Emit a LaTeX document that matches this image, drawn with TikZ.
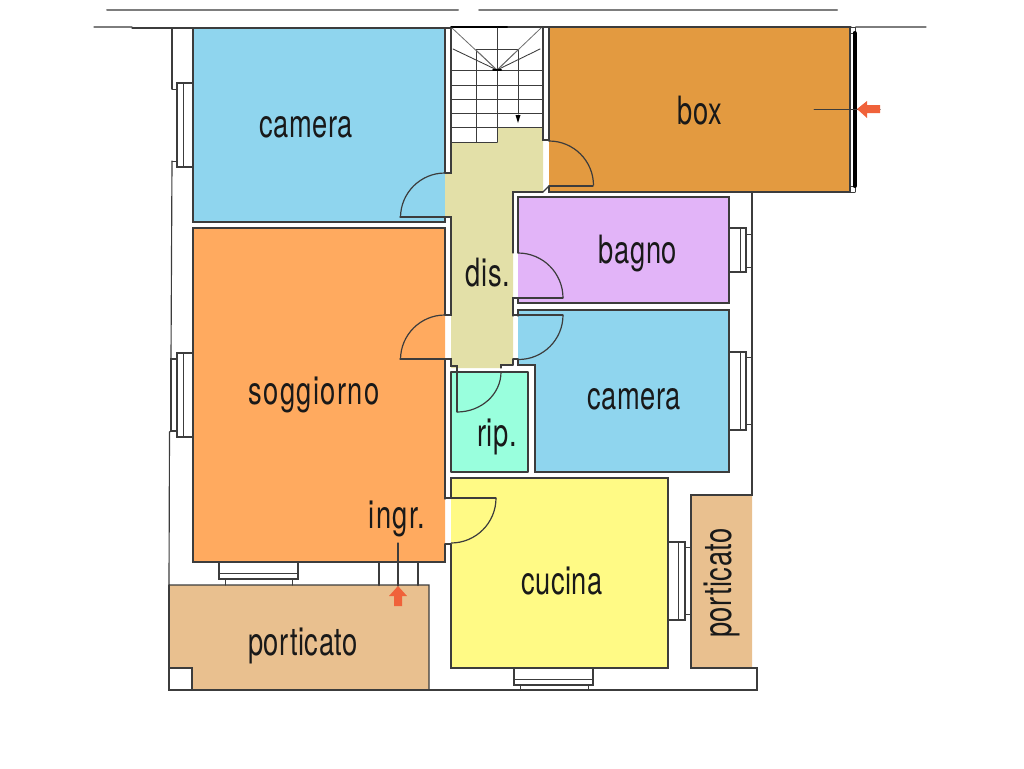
\documentclass[tikz,border=0pt]{standalone}
\usepackage{fontspec}
\setmainfont[FakeStretch=0.70,LetterSpace=1.5]{TeX Gyre Heros}
\usepackage{tkz-euclide}
\definecolor{BedClr}{RGB}{143, 213, 238}
\definecolor{LivingClr}{RGB}{255, 170, 95}
\definecolor{GarageClr}{RGB}{227, 154, 64}
\definecolor{BathClr}{RGB}{226, 180, 248}
\definecolor{HallClr}{RGB}{227, 224, 168}
\definecolor{StoreClr}{RGB}{153, 255, 221}
\definecolor{KitchenClr}{RGB}{255, 250, 133}
\definecolor{PorchClr}{RGB}{233, 192, 143}
\definecolor{WallClr}{RGB}{60, 60, 60}
\definecolor{RoadClr}{RGB}{125, 125, 125}
\definecolor{ArrowClr}{RGB}{240, 98, 58}
\tikzset{
  RoomLbl/.style={font=\fontsize{39}{40}\selectfont,text=black!90,inner sep=0pt,anchor=base},
  WideLbl/.style={RoomLbl,font=\fontsize{39}{40}\selectfont\addfontfeature{LetterSpace=3.5}},
  DoorArc/.style={line width=1.2pt,color=WallClr},
}

\begin{document}
\begin{tikzpicture}[x=1pt,y=-1pt]
\useasboundingbox (0,0) rectangle (1024,768);
\tkzSetUpLine[line width=1.15pt,color=WallClr]

\tkzDefPoints{193/28/CaA,445/28/CaB,445/173/CaC,400/173/CaD,445/217/CaE,445/222/CaF,193/222/CaG}
\tkzDefPoints{193/228/SoA,445/228/SoB,445/315/SoC,445/359/SoD,445/499/SoE,445/544/SoF,445/562/SoG,193/562/SoH}
\tkzDefPoints{549/27/BoA,850/27/BoB,850/192/BoC,549/192/BoD,549/186/BoE,549/141/BoF}
\tkzDefPoints{518/253/BaA,518/197/BaB,729/197/BaC,729/303/BaD,518/303/BaE,518/298/BaF}
\tkzDefPoints{518/316/CbA,518/310/CbB,729/310/CbC,729/472/CbD,535/472/CbE,535/365/CbF,518/365/CbG,518/359/CbH}
\tkzDefPoints{451/372/RiA,528/372/RiB,528/472/RiC,451/472/RiD}
\tkzDefPoints{451/478/CuA,668/478/CuB,668/668/CuC,451/668/CuD,451/544/CuE,451/498/CuF}
\tkzDefPoints{451/142/DiA,497/142/DiB,497/128/DiC,543/128/DiD,543/192/DiE,513/192/DiF,513/365/DiG,501/365/DiH,501/368/DiI,451/368/DiJ,451/217/DiK,451/173/DiL}
\tkzDefPoints{169/585/PoA,429/585/PoB,429/690/PoC,192/690/PoD,192/668/PoE,169/668/PoF}
\tkzDefPoints{691/668/PrA,691/495/PrB,752/495/PrC,752/668/PrD}
\tkzDefPoints{757/668/OuA,757/690/OuB,169/690/OuC}

\tkzFillPolygon[fill=BedClr](CaA,CaB,CaF,CaG)
\tkzFillPolygon[fill=LivingClr](SoA,SoB,SoG,SoH)
\tkzFillPolygon[fill=GarageClr](BoA,BoB,BoC,BoD)
\tkzFillPolygon[fill=BathClr](BaB,BaC,BaD,BaE)
\tkzFillPolygon[fill=BedClr](CbB,CbC,CbD,CbE,CbF,CbG)
\tkzFillPolygon[fill=StoreClr](RiA,RiB,RiC,RiD)
\tkzFillPolygon[fill=KitchenClr](CuA,CuB,CuC,CuD)
\tkzFillPolygon[fill=HallClr](DiA,DiB,DiC,DiD,DiE,DiF,DiG,DiH,DiI,DiJ,DiK,CaE,CaC,DiL)
\tkzFillPolygon[fill=PorchClr](PoA,PoB,PoC,PoD,PoE,PoF)
\tkzFillPolygon[fill=PorchClr](PrA,PrB,PrC,PrD)

% road lines
\tkzDefPoints{107/10/RdA,458/10/RdB,479/10/RdC,837/10/RdD,94/27/RdE,132/27/RdF,856/27/RdG,926/27/RdH}
\tkzDrawSegments[line width=2pt,color=RoadClr](RdA,RdB RdC,RdD)
\tkzDrawSegments[line width=1.2pt,color=RoadClr](RdE,RdF RdG,RdH)

% rooms
\tkzDefPoints{132/28/TpA,451/28/TpB,508/27/TpC,851/27/TpD,451/27/TpE}
\tkzDrawSegment(TpA,TpB)
\tkzDrawSegment[line width=2pt,color=black](TpE,TpC)
\tkzDrawSegment(TpC,TpD)
\tkzDrawPolySeg(CaC,CaB,CaA,CaG,CaF,CaE)
\tkzDrawPolySeg(SoC,SoB,SoA,SoH,SoG,SoF)
\tkzDrawSegment(SoD,SoE)
\tkzDrawPolySeg(BoF,BoA)
\tkzDrawPolySeg(BoA,BoB,BoC,BoD,BoE)
\tkzDrawPolySeg(BaA,BaB,BaC,BaD,BaE,BaF)
\tkzDrawPolySeg(CbA,CbB,CbC,CbD,CbE,CbF,CbG,CbH)
\tkzDrawPolygon(RiA,RiB,RiC,RiD)
\tkzDrawPolySeg(CuF,CuA,CuB,CuC,CuD,CuE)
\tkzDrawPolySeg(CaC,DiL,TpB)
\tkzDrawPolySeg(DiI,DiH,DiG)

% walls
\tkzDefPoints{543/28/WaA,543/140/WaB,549/140/WaC,513/253/WaD,513/298/WaE,518/298/WaF,513/316/WaG,513/359/WaH,518/359/WaI}
\tkzDefPoints{451/359/WaJ,451/366/WaK,457/366/WaL,457/372/WaM,501/372/WaN,445/359/WaO,445/315/WaP,451/315/WaQ,445/544/WaR,445/498/WaS}
\tkzDrawPolySeg(CaE,DiK,WaQ,WaP)
\tkzDrawPolySeg(WaA,WaB,WaC)
\tkzDrawPolySeg(DiE,BoE)
\tkzDrawPolySeg(DiE,DiF,WaD)
\tkzDrawPolySeg(WaF,WaE,WaG)
\tkzDrawPolySeg(WaH,WaI)
\tkzDrawSegment(WaH,DiG)
\tkzDrawPolySeg(WaO,WaJ,WaK,WaL,WaM)
\tkzDrawSegment(WaR,CuE)

% outer walls
\tkzDefPoints{172/28/OwA,172/89/OwB,172/161/OwC,171/359/OwE,171/431/OwF,752/192/OwH,169.5/432/OwG}
\tkzDrawPolySeg(OwA,OwB)
\tkzDrawPolySeg(OwC,OwE)
\tkzDrawPolySeg(OwF,OwG,PoA,PoB,PoC)
\tkzDrawPolySeg(PoA,PoF,OuC,PoD,PoE,PoF)
\tkzDrawPolySeg(PoD,PoC,OuB,OuA,PrD,PrA,PrB,PrC,OwH)

% doors
\tkzDefPoints{400/217/LfA,400/359/LfB,593/186/LfC,563/298/LfD,563/315/LfE,513/315/LfF,457/412/LfG,496/498/LfH}
\tkzDrawSegment[DoorArc](CaE,LfA)
\tkzDrawSegment[DoorArc](WaO,LfB)
\tkzDrawSegment[DoorArc](BoE,LfC)
\tkzDrawSegment[DoorArc](BaF,LfD)
\tkzDrawSegment[DoorArc](LfF,LfE)
\tkzDrawSegment[DoorArc](WaM,LfG)
\tkzDrawSegment[DoorArc](WaS,LfH)
\draw[DoorArc] (CaC) arc[start angle=-90,end angle=-180,radius=44.5];
\draw[DoorArc] (WaP) arc[start angle=-90,end angle=-180,radius=44.5];
\draw[DoorArc] (BoF) arc[start angle=-90,end angle=0,radius=44.5];
\draw[DoorArc] (BaA) arc[start angle=-90,end angle=0,radius=45];
\draw[DoorArc] (LfE) arc[start angle=0,end angle=90,radius=44.5];
\draw[DoorArc] (WaN) arc[start angle=0,end angle=90,x radius=44,y radius=40];
\draw[DoorArc] (LfH) arc[start angle=0,end angle=90,radius=45];

% stairs
\tkzDefPoints{451/142/StA,497/28/StB,476/50/StC,518/50/StD,476/142/StE,518/114/StF,497/70/StG}
\tkzDefPoints{452/28/StH,541/28/StI,453/49/StJ,540/49/StK,493/70/StL,501/70/StM}
\tkzDefPoints{452/70.5/TrA,543/70.5/TrB,452/85/TrC,543/85/TrD,452/99/TrE,543/99/TrF,452/113.5/TrG,543/113.5/TrH,452/127.5/TrI,543/127.5/TrL}
\tkzDrawSegments[line width=1pt](StB,DiB StE,StC StC,StD StD,StF StA,DiB)
\tkzDrawSegments[line width=1pt](TrA,TrB TrC,TrD TrE,TrF TrG,TrH TrI,TrL)
\tkzDrawSegments[line width=.8pt,color=WallClr!75](StH,StG StI,StG StC,StG StD,StG)
\tkzDrawSegments[line width=.9pt,dash pattern=on 3pt off .6pt](StJ,StG StK,StG)
\tkzDrawSegment[line width=2pt,color=black](StL,StM)
\tkzDefPoints{518/123/StN,515.5/115/StO,520.5/115/StP}
\tkzFillPolygon[fill=black](StN,StO,StP)

% windows
\tkzDefPoints{177/83/WnA,193/83/WnB,177/167/WnC,193/167/WnD,183/83/WnE,183/167/WnF,172/89/WnG,177/89/WnH,172/161/WnI,177/161/WnJ}
\tkzDrawPolySeg(WnB,WnA,WnC,WnD)
\tkzDrawSegments[line width=1pt](WnE,WnF WnG,WnH WnI,WnJ)
\tkzDefPoints{177/353/WsA,193/353/WsB,177/437/WsC,193/437/WsD,183/353/WsE,183/437/WsF,171/359/WsG,177/359/WsH,171/431/WsI,177/431/WsJ}
\tkzDrawPolySeg(WsB,WsA,WsC,WsD)
\tkzDrawSegments[line width=1pt](WsE,WsF)
\tkzDrawPolySeg[line width=1.8pt](WsH,WsG,WsI,WsJ)
\tkzDefPoints{729/228/WbA,746/228/WbB,746/272/WbC,729/272/WbD,740/228/WbE,740/272/WbF,746/234/WbG,752/234/WbH,746/267/WbI,752/267/WbJ}
\tkzDrawPolySeg(WbA,WbB,WbC,WbD)
\tkzDrawSegments[line width=1pt](WbE,WbF WbG,WbH WbI,WbJ)
\tkzDefPoints{729/352/WcA,746/352/WcB,746/430/WcC,729/430/WcD,740/352/WcE,740/430/WcF,746/357/WcG,752/357/WcH,746/424/WcI,752/424/WcJ}
\tkzDrawPolySeg(WcA,WcB,WcC,WcD)
\tkzDrawSegments[line width=1pt](WcE,WcF WcG,WcH WcI,WcJ)
\tkzDefPoints{668/542/WkA,685/542/WkB,685/620/WkC,668/620/WkD,678/542/WkE,678/620/WkF,685/547/WkG,691/547/WkH,685/614/WkI,691/614/WkJ}
\tkzDrawPolySeg(WkA,WkB,WkC,WkD)
\tkzDrawSegments[line width=1pt](WkE,WkF WkG,WkH WkI,WkJ)
\tkzDefPoints{514/668/WdA,514/685/WdB,593/685/WdC,593/668/WdD,514/679/WdE,593/679/WdF,520/685/WdG,520/690/WdH,588/685/WdI,588/690/WdJ}
\tkzDrawPolySeg(WdA,WdB,WdC,WdD)
\tkzDrawSegments[line width=1pt](WdE,WdF WdG,WdH WdI,WdJ)
\tkzDefPoints{219/562/WeA,219/579/WeB,298/579/WeC,298/562/WeD,219/573/WeE,298/573/WeF,225/579/WeG,225/585/WeH,292/579/WeI,292/585/WeJ}
\tkzDrawPolySeg(WeA,WeB,WeC,WeD)
\tkzDrawSegments[line width=1pt](WeE,WeF WeG,WeH WeI,WeJ)

% entrance, garage gate
\tkzDefPoints{379/562/EnA,379/585/EnB,418/562/EnC,418/585/EnD,398/543/EnE,398/586/EnF}
\tkzDrawSegments[line width=2pt](EnA,EnB EnC,EnD)
\tkzDrawSegment[line width=1.2pt](EnE,EnF)
\tkzDefPoints{850/33/GtA,856/33/GtB,850/186/GtC,856/186/GtD,855/27/GtE,855/33/GtF,855/186/GtG,855/192/GtH,854.5/33/GtI,854.5/186/GtJ,814/109/GtK,880/109/GtL}
\tkzDrawSegments[line width=.9pt](GtA,GtB GtC,GtD GtE,GtF GtG,GtH BoB,GtE BoC,GtH)
\tkzDrawSegment[line width=4pt,color=black](GtI,GtJ)
\tkzDrawSegment[line width=1pt](GtK,GtL)

% red arrows
\tkzDefPoints{398/586/ArA,407/596/ArB,402/596/ArC,402/606/ArD,394/606/ArE,394/596/ArF,389/596/ArG}
\tkzFillPolygon[fill=ArrowClr](ArA,ArB,ArC,ArD,ArE,ArF,ArG)
\tkzDefPoints{857/109/AsA,867/101/AsB,867/105/AsC,880/105/AsD,880/113/AsE,867/113/AsF,867/118/AsG}
\tkzFillPolygon[fill=ArrowClr](AsA,AsB,AsC,AsD,AsE,AsF,AsG)

\node[RoomLbl] (cameraA) at (306,137.5) {camera};
\node[RoomLbl] (boxRoom) at (700,124) {box};
\node[RoomLbl] (bagnoRoom) at (638,263) {bagno};
\node[RoomLbl] (disRoom) at (488,286.5) {dis.};
\node[WideLbl] (soggiornoRoom) at (314,404.5) {soggiorno};
\node[RoomLbl] (cameraB) at (634,409.5) {camera};
\node[RoomLbl] (ripRoom) at (497,446) {rip.};
\node[WideLbl] (ingrRoom) at (397,528.5) {ingr.};
\node[RoomLbl] (cucinaRoom) at (562,594.5) {cucina};
\node[RoomLbl] (porticatoA) at (303,655.5) {porticato};
\node[RoomLbl,rotate=90] (porticatoB) at (731,583) {porticato};

\end{tikzpicture}
\end{document}
